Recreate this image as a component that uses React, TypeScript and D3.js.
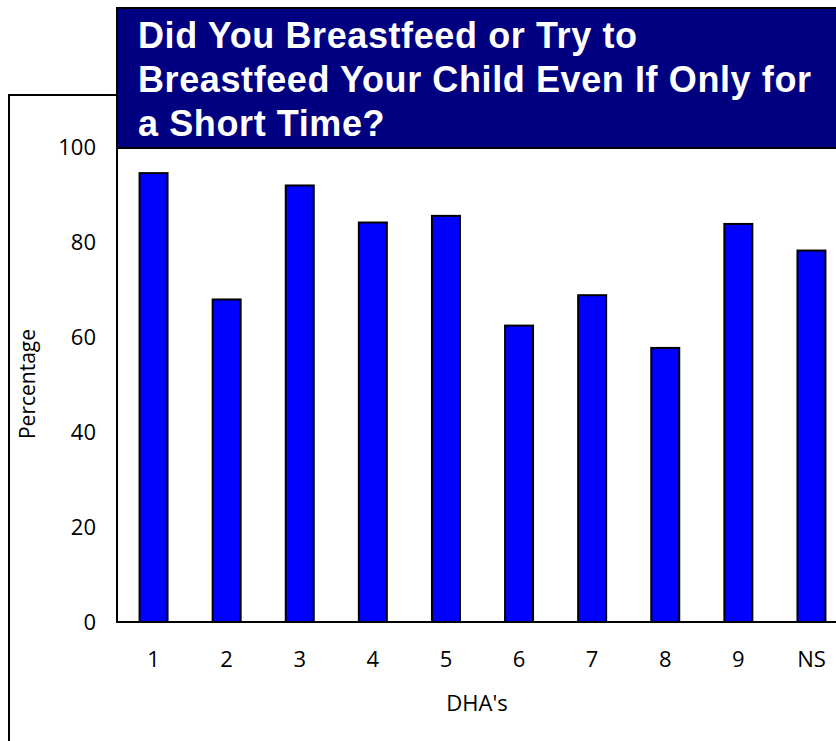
import React, { useEffect, useRef } from "react";
import * as d3 from "d3";

// DHA categories and share of respondents who breastfed (%)
const categories = ["1", "2", "3", "4", "5", "6", "7", "8", "9", "NS"];
const percentages = [94.5, 67.9, 91.9, 84.1, 85.5, 62.4, 68.8, 57.7, 83.8, 78.2];
const yTicks = [0, 20, 40, 60, 80, 100];
const titleLines = [
  "Did You Breastfeed or Try to",
  "Breastfeed Your Child Even If Only for",
  "a Short Time?",
];

const W = 836;
const H = 741;

export default function App() {
  const ref = useRef<SVGSVGElement | null>(null);

  useEffect(() => {
    const svg = d3.select(ref.current);
    svg.selectAll("*").remove();

    const labelFont = "'Open Sans', sans-serif";

    // plot geometry
    const x0 = 117;
    const y0 = 622;
    const step = 73.1;

    const xScale = d3
      .scaleBand<string>()
      .domain(categories)
      .range([x0, x0 + step * categories.length])
      .paddingInner(0.617)
      .paddingOuter(0.3085);

    const yScale = d3.scaleLinear().domain([0, 100]).range([y0, 147]);

    // outer frame (only left and top edges are visible)
    svg
      .append("path")
      .attr("d", `M9,${H + 5} L9,95 L${x0},95`)
      .attr("fill", "none")
      .attr("stroke", "#000")
      .attr("stroke-width", 2);

    // bars
    svg
      .append("g")
      .selectAll("rect")
      .data(percentages)
      .enter()
      .append("rect")
      .attr("x", (_, i) => xScale(categories[i]) as number)
      .attr("width", xScale.bandwidth())
      .attr("y", (d) => yScale(d))
      .attr("height", (d) => y0 - yScale(d))
      .attr("fill", "#0000ff")
      .attr("stroke", "#000")
      .attr("stroke-width", 2);

    // axes lines
    svg
      .append("line")
      .attr("x1", x0)
      .attr("x2", W + 5)
      .attr("y1", y0)
      .attr("y2", y0)
      .attr("stroke", "#000")
      .attr("stroke-width", 2);
    svg
      .append("line")
      .attr("x1", x0)
      .attr("x2", x0)
      .attr("y1", 140)
      .attr("y2", y0 + 1)
      .attr("stroke", "#000")
      .attr("stroke-width", 2);

    // y tick labels
    svg
      .append("g")
      .selectAll("text")
      .data(yTicks)
      .enter()
      .append("text")
      .attr("x", 96)
      .attr("y", (d) => yScale(d))
      .attr("dy", "0.36em")
      .attr("text-anchor", "end")
      .style("font-family", labelFont)
      .style("font-size", "22px")
      .attr("fill", "#000")
      .text((d) => d);

    // x tick labels
    svg
      .append("g")
      .selectAll("text")
      .data(categories)
      .enter()
      .append("text")
      .attr("x", (d) => (xScale(d) as number) + xScale.bandwidth() / 2)
      .attr("y", 659)
      .attr("dy", "0.36em")
      .attr("text-anchor", "middle")
      .style("font-family", labelFont)
      .style("font-size", "22px")
      .attr("fill", "#000")
      .text((d) => d);

    // axis titles
    svg
      .append("text")
      .attr("x", 477)
      .attr("y", 703)
      .attr("dy", "0.36em")
      .attr("text-anchor", "middle")
      .style("font-family", labelFont)
      .style("font-size", "22px")
      .attr("fill", "#000")
      .text("DHA's");

    svg
      .append("text")
      .attr("transform", "translate(27,384) rotate(-90)")
      .attr("dy", "0.36em")
      .attr("text-anchor", "middle")
      .style("font-family", labelFont)
      .style("font-size", "21px")
      .attr("fill", "#000")
      .text("Percentage");

    // title box
    svg
      .append("rect")
      .attr("x", x0)
      .attr("y", 8)
      .attr("width", W - x0 + 10)
      .attr("height", 140)
      .attr("fill", "#000080")
      .attr("stroke", "#000")
      .attr("stroke-width", 2);

    svg
      .append("g")
      .selectAll("text")
      .data(titleLines)
      .enter()
      .append("text")
      .attr("x", 138)
      .attr("y", (_, i) => 48 + i * 44)
      .style("font-family", "'Liberation Sans', Arial, sans-serif")
      .style("font-weight", "bold")
      .style("font-size", "36px")
      .style("letter-spacing", "0.6px")
      .attr("fill", "#fff")
      .text((d) => d);
  }, []);

  return (
    <svg
      ref={ref}
      width={W}
      height={H}
      style={{ position: "absolute", left: 0, top: 0, background: "#fff" }}
    />
  );
}
